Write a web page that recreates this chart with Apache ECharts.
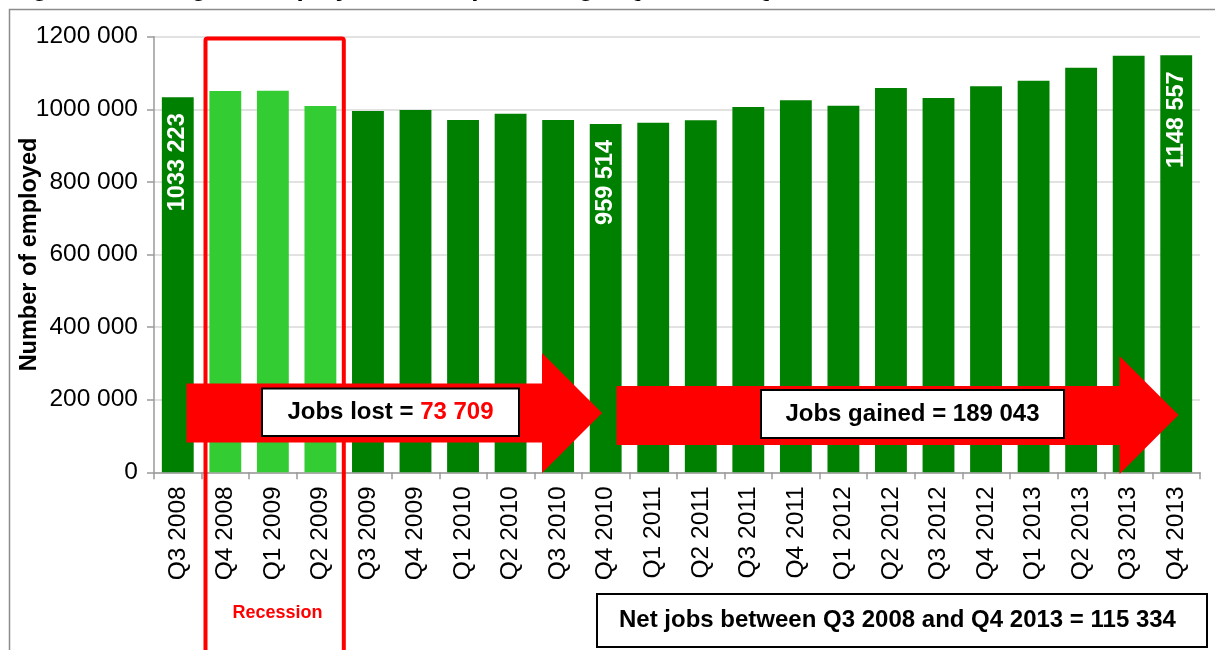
<!DOCTYPE html>
<html>
<head>
<meta charset="utf-8">
<script src="https://cdn.jsdelivr.net/npm/echarts@6/dist/echarts.min.js"></script>
<style>
html,body{margin:0;padding:0;background:#fff;}
#chart{width:1215px;height:650px;}
</style>
</head>
<body>
<div id="chart"></div>
<script>
// ---- data ----
const categories = ['Q3 2008','Q4 2008','Q1 2009','Q2 2009','Q3 2009','Q4 2009','Q1 2010','Q2 2010','Q3 2010','Q4 2010','Q1 2011','Q2 2011','Q3 2011','Q4 2011','Q1 2012','Q2 2012','Q3 2012','Q4 2012','Q1 2013','Q2 2013','Q3 2013','Q4 2013'];
const employed = [1033223, 1050500, 1050800, 1009000, 995300, 998000, 970500, 988000, 970500, 959514, 963000, 969500, 1006000, 1024800, 1009900, 1058700, 1031000, 1063400, 1078800, 1114600, 1147700, 1148557];
const recessionQuarters = ['Q4 2008','Q1 2009','Q2 2009'];
const labelledQuarters = ['Q3 2008','Q4 2010','Q4 2013'];
const yTicks = [0, 200000, 400000, 600000, 800000, 1000000, 1200000];
const titleText = 'Figure 3: Change in employment in Mpumalanga, Q3 2008 – Q4 2013';
const jobsLost = '73 709';
const jobsGained = '189 043';
const netJobs = '115 334';

function fmt(v){
  if (v < 1000) return String(v);
  const th = Math.floor(v/1000), r = v % 1000;
  return th + ' ' + String(r).padStart(3,'0');
}

const FONT = '"Liberation Sans", Arial, sans-serif';
const DARK = '#008000', LIGHT = '#33cc33', RED = '#ff0000';

const barData = employed.map((v,i)=>{
  const c = categories[i];
  return {
    value: v,
    itemStyle: { color: recessionQuarters.includes(c) ? LIGHT : DARK },
    label: { show: labelledQuarters.includes(c) }
  };
});

const chart = echarts.init(document.getElementById('chart'), null, {renderer:'canvas'});
chart.setOption({
  animation: false,
  backgroundColor: '#fff',
  grid: { left: 154, right: 15, top: 36.7, bottom: 177.7, containLabel: false, outerBoundsMode: 'none' },
  xAxis: {
    type: 'category',
    data: categories,
    boundaryGap: true,
    axisLine: { show: true, lineStyle: { color: '#9a9a9a', width: 1.5 } },
    axisTick: { show: true, alignWithLabel: false, length: 7, lineStyle: { color: '#9a9a9a', width: 1.5 } },
    axisLabel: { interval: 0, rotate: 90, margin: 14, fontSize: 24.5, color: '#000', fontFamily: FONT }
  },
  yAxis: {
    type: 'value',
    min: yTicks[0], max: yTicks[yTicks.length-1], interval: yTicks[1]-yTicks[0],
    name: 'Number of employed',
    nameLocation: 'middle',
    nameRotate: 90,
    nameGap: 112,
    nameMoveOverlap: false,
    nameTextStyle: { fontSize: 23.5, fontWeight: 'bold', color: '#000', fontFamily: FONT },
    axisLine: { show: true, lineStyle: { color: '#9a9a9a', width: 1.5 } },
    axisTick: { show: true, length: 7, lineStyle: { color: '#9a9a9a', width: 1.5 } },
    axisLabel: { fontSize: 24.5, color: '#000', margin: 16, fontFamily: FONT, formatter: fmt },
    splitLine: { show: true, lineStyle: { color: '#d9d9d9', width: 1.5 } }
  },
  series: [{
    type: 'bar',
    data: barData,
    barCategoryGap: '33%',
    label: {
      position: 'insideTop',
      rotate: 90,
      align: 'right',
      verticalAlign: 'middle',
      distance: 16,
      color: '#fff',
      fontSize: 23.5,
      fontWeight: 'bold',
      fontFamily: FONT,
      formatter: p => fmt(p.value)
    }
  }],
  graphic: [
    // outer frame
    { type: 'rect', z: 1, silent: true, shape: { x: 9.5, y: 9.5, width: 1300, height: 1000 }, style: { fill: null, stroke: '#8c8c8c', lineWidth: 1.5 } },
    // cut-off title
    { type: 'text', z: 1, x: 9, y: 2, style: { text: titleText, font: 'bold 26px ' + FONT, fill: '#000', verticalAlign: 'bottom', align: 'left' } },
    // left arrow
    { type: 'polygon', z: 100, shape: { points: [[186.5,383.5],[542,383.5],[542,353],[602,413],[542,473],[542,442.5],[186.5,442.5]] }, style: { fill: RED } },
    // right arrow
    { type: 'polygon', z: 100, shape: { points: [[616.5,386],[1119.5,386],[1119.5,356],[1178.5,415],[1119.5,474],[1119.5,445],[616.5,445]] }, style: { fill: RED } },
    // recession box
    { type: 'rect', z: 101, shape: { x: 205.5, y: 38.5, width: 138.3, height: 700, r: 2 }, style: { fill: null, stroke: RED, lineWidth: 4 } },
    { type: 'text', z: 101, x: 277.5, y: 613, style: { text: 'Recession', font: 'bold 18px ' + FONT, fill: RED, align: 'center', verticalAlign: 'middle' } },
    // jobs lost box
    { type: 'rect', z: 102, shape: { x: 262, y: 388.5, width: 257, height: 47.5 }, style: { fill: '#fff', stroke: '#000', lineWidth: 2 } },
    { type: 'text', z: 103, x: 390.5, y: 412.5, style: {
        text: '{a|Jobs lost = }{b|' + jobsLost + '}', align: 'center', verticalAlign: 'middle',
        rich: { a: { font: 'bold 24px ' + FONT, fill: '#000' }, b: { font: 'bold 24px ' + FONT, fill: RED } } } },
    // jobs gained box
    { type: 'rect', z: 102, shape: { x: 761, y: 390, width: 303, height: 48 }, style: { fill: '#fff', stroke: '#000', lineWidth: 2 } },
    { type: 'text', z: 103, x: 912.5, y: 414.5, style: { text: 'Jobs gained = ' + jobsGained, font: 'bold 24px ' + FONT, fill: '#000', align: 'center', verticalAlign: 'middle' } },
    // net jobs box
    { type: 'rect', z: 102, shape: { x: 597, y: 594, width: 610, height: 53 }, style: { fill: '#fff', stroke: '#000', lineWidth: 2 } },
    { type: 'text', z: 103, x: 619, y: 620.5, style: { text: 'Net jobs between Q3 2008 and Q4 2013 = ' + netJobs, font: 'bold 24px ' + FONT, fill: '#000', align: 'left', verticalAlign: 'middle' } }
  ]
});
</script>
</body>
</html>
